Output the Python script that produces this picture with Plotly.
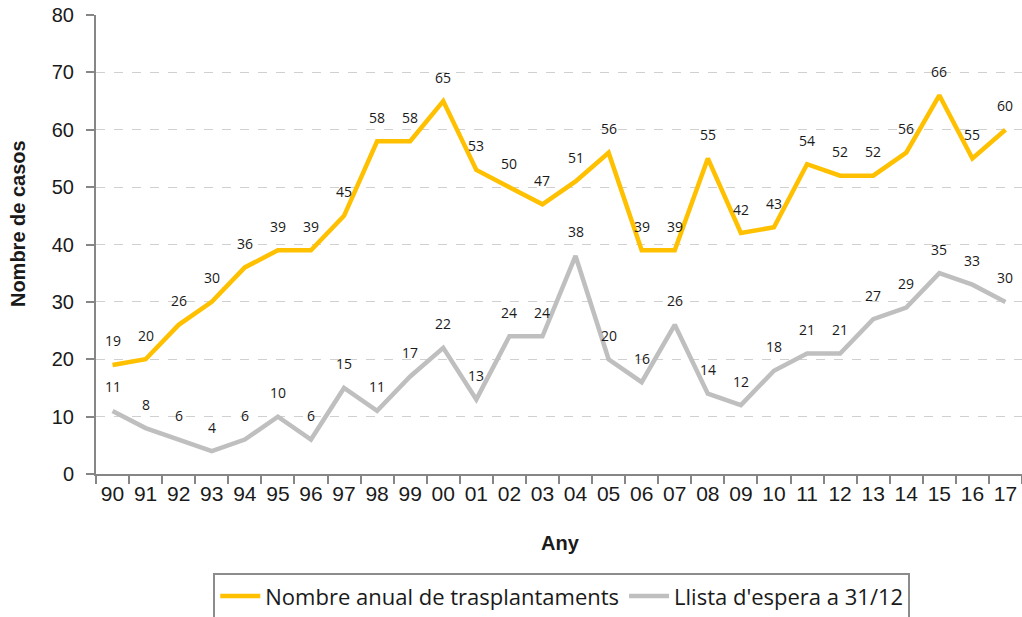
import plotly.graph_objects as go

years = ["90", "91", "92", "93", "94", "95", "96", "97", "98", "99",
         "00", "01", "02", "03", "04", "05", "06", "07", "08", "09",
         "10", "11", "12", "13", "14", "15", "16", "17"]
trasplantaments = [19, 20, 26, 30, 36, 39, 39, 45, 58, 58,
                   65, 53, 50, 47, 51, 56, 39, 39, 55, 42,
                   43, 54, 52, 52, 56, 66, 55, 60]
llista_espera = [11, 8, 6, 4, 6, 10, 6, 15, 11, 17,
                 22, 13, 24, 24, 38, 20, 16, 26, 14, 12,
                 18, 21, 21, 27, 29, 35, 33, 30]

name_t = "Nombre anual de trasplantaments"
name_l = "Llista d'espera a 31/12"
col_t = "#FFC000"
col_l = "#BFBFBF"

fig = go.Figure()
fig.add_trace(go.Scatter(x=years, y=trasplantaments, mode="lines", name=name_t,
                         line=dict(color=col_t, width=4.5)))
fig.add_trace(go.Scatter(x=years, y=llista_espera, mode="lines", name=name_l,
                         line=dict(color=col_l, width=4.5)))

annotations = []
for series in (trasplantaments, llista_espera):
    for i, v in enumerate(series):
        annotations.append(dict(x=i, y=v, xref="x", yref="y", text=str(v),
                                showarrow=False, yshift=24,
                                font=dict(family="Open Sans", size=14, color="#1a1a1a")))

annotations.append(dict(x=0.502, y=-0.151, xref="paper", yref="paper", text="<b>Any</b>",
                        showarrow=False, xanchor="center", yanchor="middle",
                        font=dict(family="Liberation Sans", size=20, color="#1a1a1a")))
annotations.append(dict(x=-0.084, y=0.545, xref="paper", yref="paper", text="<b>Nombre de casos</b>",
                        showarrow=False, textangle=-90, xanchor="center", yanchor="middle",
                        font=dict(family="Liberation Sans", size=20, color="#1a1a1a")))

fig.update_layout(
    width=1022, height=617,
    margin=dict(l=96, r=0, t=15, b=143, autoexpand=False),
    plot_bgcolor="white", paper_bgcolor="white",
    font=dict(family="Liberation Sans", size=20, color="#1a1a1a"),
    showlegend=True,
    legend=dict(orientation="h", x=0.503, xanchor="center", y=-0.216, yanchor="top",
                bordercolor="#8c8c8c", borderwidth=2, itemwidth=40,
                font=dict(family="Open Sans", size=22, color="#1a1a1a"),
                tracegroupgap=0),
    annotations=annotations,
    xaxis=dict(type="category", showgrid=False, showline=True, linecolor="#868686", linewidth=2,
               ticks="outside", tickson="boundaries", ticklen=8, tickcolor="#868686", tickwidth=2,
               tickangle=0, tickfont=dict(size=21), range=[-0.5, 27.5], automargin=False),
    yaxis=dict(range=[0, 80], dtick=10, showgrid=True, gridcolor="#d0d0d0", griddash="dash",
               gridwidth=1, showline=True, linecolor="#868686", linewidth=2,
               ticks="outside", ticklen=8, tickcolor="#868686", tickwidth=2,
               ticklabelstandoff=8,
               tickfont=dict(size=20), zeroline=False, automargin=False),
)

fig.write_html("out.html", config={"displayModeBar": False},
               post_script="document.body.style.margin='0';document.body.style.overflow='hidden';")
